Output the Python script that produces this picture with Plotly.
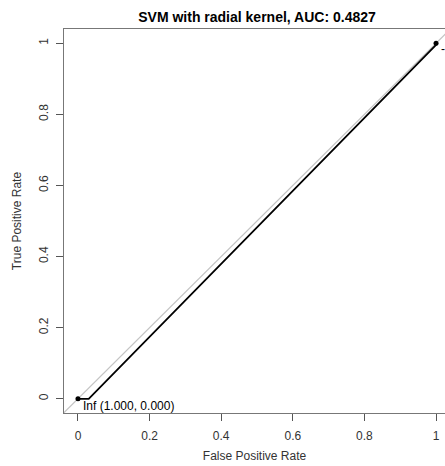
import plotly.graph_objects as go

# ROC curve points (False Positive Rate, True Positive Rate)
fpr = [0.0, 0.03, 1.0, 1.0]
tpr = [0.0, 0.0, 0.995, 1.0]
# threshold points shown with labels
thr_x = [0.0, 1.0]
thr_y = [0.0, 1.0]
thr_labels = ["Inf (1.000, 0.000)", "-Inf (0.000, 1.000)"]
diag = [-0.1, 1.1]
ticks = [0, 0.2, 0.4, 0.6, 0.8, 1]
tick_text = ["0", "0.2", "0.4", "0.6", "0.8", "1"]
title = "SVM with radial kernel, AUC: 0.4827"

FONT = "Liberation Sans, Arial, Helvetica, sans-serif"

fig = go.Figure()
fig.add_trace(go.Scatter(x=diag, y=diag, mode="lines",
                         line=dict(color="#c4c4c4", width=1.2), hoverinfo="skip"))
fig.add_trace(go.Scatter(x=fpr, y=tpr, mode="lines",
                         line=dict(color="black", width=1.8), hoverinfo="skip"))
fig.add_trace(go.Scatter(x=thr_x, y=thr_y, mode="markers",
                         marker=dict(color="black", size=5), hoverinfo="skip",
                         cliponaxis=False))
fig.add_annotation(x=thr_x[0], y=thr_y[0], text=thr_labels[0], showarrow=False,
                   xanchor="left", yanchor="top", xshift=3, yshift=2,
                   font=dict(size=12, color="black", family=FONT))
fig.add_annotation(x=thr_x[1], y=thr_y[1], text=thr_labels[1], showarrow=False,
                   xanchor="left", yanchor="top", xshift=3, yshift=3,
                   font=dict(size=12, color="black", family=FONT))

fig.update_layout(
    width=445, height=466,
    margin=dict(l=64, r=0, t=29, b=53),
    paper_bgcolor="white", plot_bgcolor="white",
    showlegend=False,
    font=dict(family=FONT, size=12, color="#333333"),
    title=dict(text="<b>" + title + "</b>", x=(257) / 445, xanchor="center",
               y=1 - 17 / 466, yanchor="middle",
               font=dict(size=14, color="black", family=FONT)),
    xaxis=dict(range=[-0.039, 1.025], tickvals=ticks, ticktext=tick_text,
               showgrid=False, zeroline=False, showline=True, mirror=True,
               linecolor="#777777", linewidth=1.3, ticks="outside", ticklen=7,
               tickcolor="#555555", ticklabelstandoff=4,
               tickfont=dict(size=12, color="#333333"),
               title=dict(text="False Positive Rate", standoff=10,
                          font=dict(size=12, color="#333333"))),
    yaxis=dict(range=[-0.04, 1.04], tickvals=ticks, ticktext=tick_text,
               showgrid=False, zeroline=False, showline=True, mirror=False,
               linecolor="#777777", linewidth=1.3, ticks="outside", ticklen=7,
               tickcolor="#555555", tickangle=-90, ticklabelstandoff=3,
               tickfont=dict(size=12, color="#333333"),
               title=dict(text="True Positive Rate", standoff=12,
                          font=dict(size=12, color="#333333"))),
)

fig.write_html("out.html")
